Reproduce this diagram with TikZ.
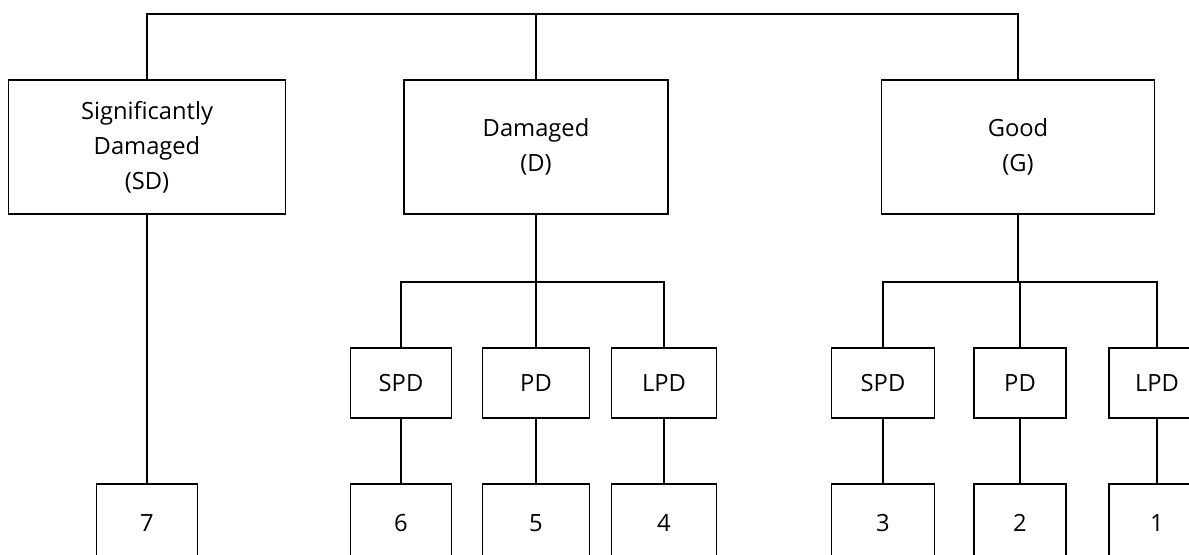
\documentclass[tikz,border=0pt]{standalone}
\usepackage{fontspec}
\setmainfont{Open Sans}
\pgfdeclarelayer{edgelayer}
\pgfdeclarelayer{nodelayer}
\pgfsetlayers{edgelayer,nodelayer,main}
\tikzstyle{none}=[inner sep=0pt]
\tikzstyle{box}=[draw=black,line width=0.9pt,fill=white,align=center,inner sep=2pt,font=\fontsize{13.5}{20}\selectfont]
\tikzstyle{top_box}=[box,minimum height=134*0.02cm]
\tikzstyle{mid_box}=[box,minimum height=70*0.02cm]
\tikzstyle{leaf_box}=[box,minimum height=78*0.02cm]
\tikzstyle{link}=[draw=black,line width=0.9pt]

\begin{document}
\begin{tikzpicture}[x=0.02cm,y=-0.02cm]
	\useasboundingbox (0,0) rectangle (1189,554);
	\clip (0,0) rectangle (1189,554);
	\begin{pgfonlayer}{nodelayer}
		\node [style={top_box},minimum width=277*0.02cm] (0) at (147, 147) {Significantly\\Damaged\\(SD)};
		\node [style={top_box},minimum width=264*0.02cm] (1) at (536, 147) {Damaged\\(D)};
		\node [style={top_box},minimum width=273*0.02cm] (2) at (1018, 147) {Good\\(G)};
		\node [style={mid_box},minimum width=101*0.02cm] (3) at (401, 383) {SPD};
		\node [style={mid_box},minimum width=107*0.02cm] (4) at (536, 383) {PD};
		\node [style={mid_box},minimum width=105*0.02cm] (5) at (664, 383) {LPD};
		\node [style={mid_box},minimum width=103*0.02cm] (6) at (883, 383) {SPD};
		\node [style={mid_box},minimum width=92*0.02cm] (7) at (1020, 383) {PD};
		\node [style={mid_box},minimum width=96*0.02cm] (8) at (1157, 383) {LPD};
		\node [style={leaf_box},minimum width=101*0.02cm] (9) at (147, 523) {7};
		\node [style={leaf_box},minimum width=101*0.02cm] (10) at (401, 523) {6};
		\node [style={leaf_box},minimum width=107*0.02cm] (11) at (536, 523) {5};
		\node [style={leaf_box},minimum width=105*0.02cm] (12) at (664, 523) {4};
		\node [style={leaf_box},minimum width=103*0.02cm] (13) at (883, 523) {3};
		\node [style={leaf_box},minimum width=92*0.02cm] (14) at (1020, 523) {2};
		\node [style={leaf_box},minimum width=96*0.02cm] (15) at (1157, 523) {1};
		\coordinate (16) at (536, 14);
		\coordinate (17) at (536, 282);
		\coordinate (18) at (1018, 282);
	\end{pgfonlayer}
	\begin{pgfonlayer}{edgelayer}
		\draw [style=link] (0.north) |- (16) -| (2.north);
		\draw [style=link] (1) -- (16);
		\draw [style=link] (0) -- (9);
		\draw [style=link] (1) -- (17);
		\draw [style=link] (3.north) |- (17) -| (5.north);
		\draw [style=link] (4) -- (17);
		\draw [style=link] (2) -- (18);
		\draw [style=link] (6.north) |- (18) -| (8.north);
		\draw [style=link] (7.north) |- (18);
		\draw [style=link] (3) -- (10);
		\draw [style=link] (4) -- (11);
		\draw [style=link] (5) -- (12);
		\draw [style=link] (6) -- (13);
		\draw [style=link] (7) -- (14);
		\draw [style=link] (8) -- (15);
	\end{pgfonlayer}
\end{tikzpicture}
\end{document}
